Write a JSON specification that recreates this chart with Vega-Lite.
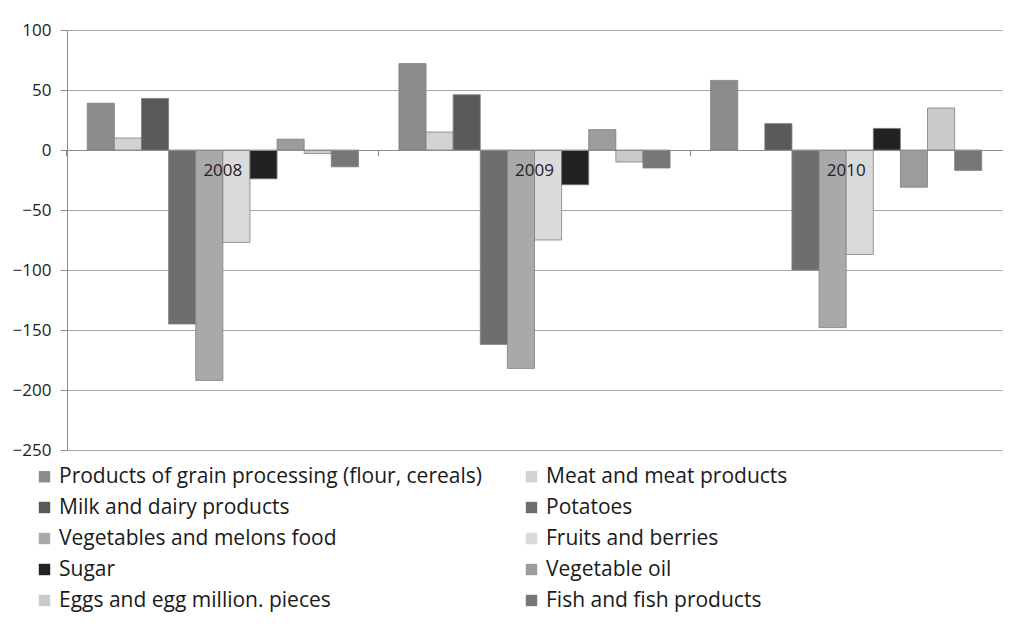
{
  "$schema": "https://vega.github.io/schema/vega-lite/v6.json",
  "width": 935,
  "height": 420,
  "autosize": {"type": "none"},
  "padding": {"left": 67, "top": 30, "right": 15, "bottom": 179},
  "background": "white",
  "config": {"view": {"stroke": null}, "font": "Open Sans"},
  "data": {
    "values": [
      {"year": "2008", "category": "Products of grain processing (flour, cereals)", "value": 39},
      {"year": "2008", "category": "Meat and meat products", "value": 10},
      {"year": "2008", "category": "Milk and dairy products", "value": 43},
      {"year": "2008", "category": "Potatoes", "value": -145},
      {"year": "2008", "category": "Vegetables and melons food", "value": -192},
      {"year": "2008", "category": "Fruits and berries", "value": -77},
      {"year": "2008", "category": "Sugar", "value": -24},
      {"year": "2008", "category": "Vegetable oil", "value": 9},
      {"year": "2008", "category": "Eggs and egg million. pieces", "value": -3},
      {"year": "2008", "category": "Fish and fish products", "value": -14},
      {"year": "2009", "category": "Products of grain processing (flour, cereals)", "value": 72},
      {"year": "2009", "category": "Meat and meat products", "value": 15},
      {"year": "2009", "category": "Milk and dairy products", "value": 46},
      {"year": "2009", "category": "Potatoes", "value": -162},
      {"year": "2009", "category": "Vegetables and melons food", "value": -182},
      {"year": "2009", "category": "Fruits and berries", "value": -75},
      {"year": "2009", "category": "Sugar", "value": -29},
      {"year": "2009", "category": "Vegetable oil", "value": 17},
      {"year": "2009", "category": "Eggs and egg million. pieces", "value": -10},
      {"year": "2009", "category": "Fish and fish products", "value": -15},
      {"year": "2010", "category": "Products of grain processing (flour, cereals)", "value": 58},
      {"year": "2010", "category": "Milk and dairy products", "value": 22},
      {"year": "2010", "category": "Potatoes", "value": -100},
      {"year": "2010", "category": "Vegetables and melons food", "value": -148},
      {"year": "2010", "category": "Fruits and berries", "value": -87},
      {"year": "2010", "category": "Sugar", "value": 18},
      {"year": "2010", "category": "Vegetable oil", "value": -31},
      {"year": "2010", "category": "Eggs and egg million. pieces", "value": 35},
      {"year": "2010", "category": "Fish and fish products", "value": -17}
    ]
  },
  "mark": {"type": "bar", "stroke": "#7f7f7f", "strokeWidth": 0.8},
  "encoding": {
    "x": {
      "field": "year",
      "type": "nominal",
      "scale": {"paddingInner": 0.13, "paddingOuter": 0.065},
      "axis": {
        "title": null,
        "orient": "bottom",
        "offset": -300,
        "labelAngle": 0,
        "bandPosition": -0.075,
        "domainColor": "#8c8c8c",
        "tickColor": "#8c8c8c",
        "tickSize": 6,
        "labelFontSize": 17,
        "labelColor": "#222222",
        "labelPadding": 6,
        "zindex": 1
      }
    },
    "xOffset": {
      "field": "category",
      "type": "nominal",
      "scale": {
        "domain": ["Products of grain processing (flour, cereals)", "Meat and meat products", "Milk and dairy products", "Potatoes", "Vegetables and melons food", "Fruits and berries", "Sugar", "Vegetable oil", "Eggs and egg million. pieces", "Fish and fish products"],
        "paddingInner": 0,
        "paddingOuter": 0
      }
    },
    "y": {
      "field": "value",
      "type": "quantitative",
      "scale": {"domain": [-250, 100], "nice": false, "zero": false},
      "axis": {
        "title": null,
        "values": [-250, -200, -150, -100, -50, 0, 50, 100],
        "gridColor": "#a6a6a6",
        "domainColor": "#8c8c8c",
        "tickColor": "#8c8c8c",
        "tickSize": 7,
        "labelFontSize": 17,
        "labelColor": "#222222",
        "labelPadding": 9
      }
    },
    "color": {
      "field": "category",
      "type": "nominal",
      "scale": {
        "domain": ["Products of grain processing (flour, cereals)", "Meat and meat products", "Milk and dairy products", "Potatoes", "Vegetables and melons food", "Fruits and berries", "Sugar", "Vegetable oil", "Eggs and egg million. pieces", "Fish and fish products"],
        "range": ["#8c8c8c", "#d2d2d2", "#5a5a5a", "#6e6e6e", "#a9a9a9", "#dadada", "#222222", "#9c9c9c", "#cacaca", "#777777"]
      },
      "legend": {
        "title": null,
        "orient": "none",
        "direction": "horizontal",
        "legendX": -33,
        "legendY": 436,
        "columns": 2,
        "symbolType": "square",
        "symbolSize": 130,
        "symbolStrokeWidth": 0,
        "labelFontSize": 21,
        "labelColor": "#1a1a1a",
        "labelOffset": 4,
        "labelLimit": 700,
        "rowPadding": 9,
        "columnPadding": 39
      }
    }
  }
}
